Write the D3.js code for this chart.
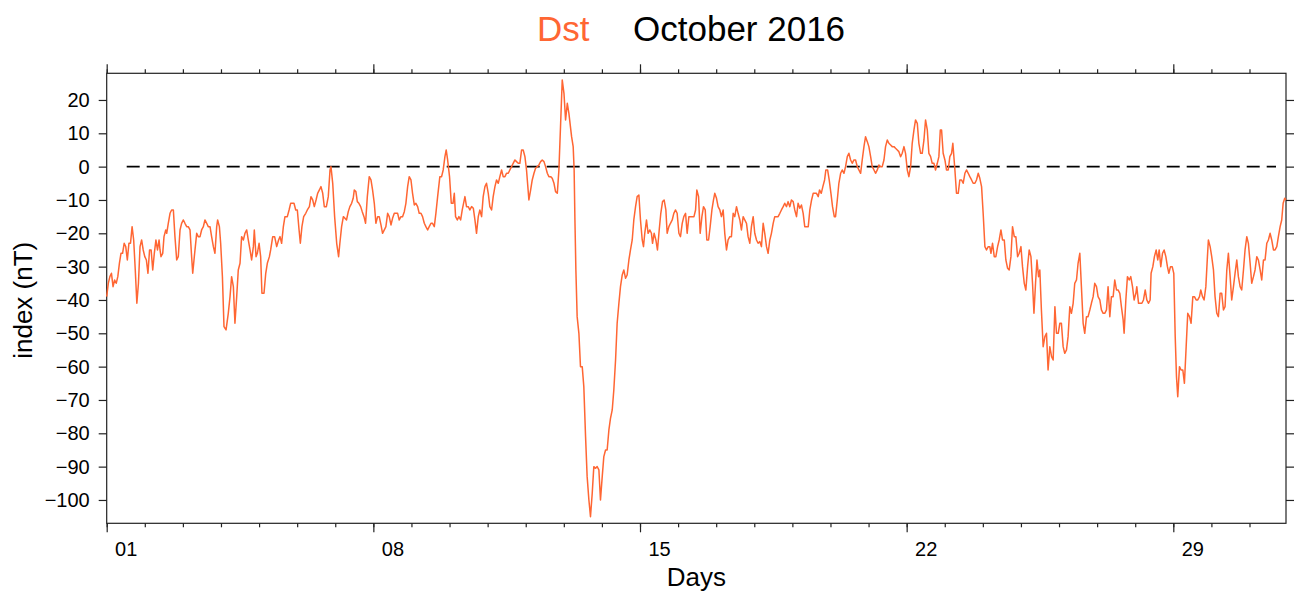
<!DOCTYPE html>
<meta charset="utf-8">
<style>
    body { margin: 0; background: #fff; }
    text { font-family: "Liberation Sans", Arial, sans-serif; }
</style>
<div id="chart"></div>
<script src="https://d3js.org/d3.v7.min.js"></script>
<script>

    // hours since 2016-10-01 00:00 UT
    var hours = [
        0, 1, 2, 3, 4, 5, 6, 7, 8, 9,
        10, 11, 12, 13, 14, 15, 16, 17, 18, 19,
        20, 21, 22, 23, 24, 25, 26, 27, 28, 29,
        30, 31, 32, 33, 33.6, 34.2, 35.3, 36.1, 37.2, 37.8,
        38.8, 39.9, 40.9, 42, 43, 44.1, 45.1, 46.2, 47.2, 48.3,
        49.3, 50.4, 51.4, 52.5, 53.5, 54.2, 55.2, 56.7, 57.7, 58.8,
        59.8, 60.9, 61.9, 63, 64, 65.1, 66.1, 67.2, 68.2, 69.3,
        69.9, 71, 71.8, 72.9, 73.9, 75.2, 76.6, 77.7, 78.7, 79.8,
        80.8, 81.9, 82.9, 84, 85, 86.1, 87.1, 88.2, 89.2, 90.3,
        91.3, 92.4, 93, 94.1, 94.9, 96, 97, 97.8, 99.1, 100.2,
        101.2, 102.5, 103.3, 104.6, 105.8, 107.1, 108.3, 109.2, 110.2, 111.3,
        112.3, 113.8, 114.9, 115.9, 117, 118, 119.1, 120.1, 121.2, 122,
        123, 124.1, 125.4, 126.4, 127.7, 128.7, 129.8, 130.8, 131.9, 132.9,
        134, 135, 136.1, 137.1, 138.4, 139.6, 140.7, 141.3, 142.4, 143.6,
        144.9, 146.1,
        146.9, 148, 149.1, 150.1, 151.1, 152.2, 153.2, 154.3, 155.3, 156,
        157, 157.9, 158.9, 160, 161, 162.1, 163.1, 164.2, 165.4, 166.5,
        167.5, 168.6, 169.6, 170.7, 171.7, 172.8, 173.8, 174.9, 175.9, 177,
        178, 179.1, 180.1, 181.2, 182.2, 183.3, 184.3, 185.4, 186.4, 187.5,
        188.5, 189.6, 190.6, 191.7, 192.7, 193.8, 194.8, 195.9, 196.9, 198,
        199, 200.1, 201.1, 202.2, 203.2, 204.3, 205.3, 206.4, 207.4, 208.5,
        209.9, 211, 212, 213.1, 213.9, 214.8, 216, 217.1, 218.2, 219,
        219.8, 220.9, 221.9, 223, 224, 225.7, 226.7, 227.8, 228.8, 229.9,
        231, 232, 233, 234.1, 235.1, 236.2, 237.2, 238.3, 239.3, 240.4,
        241.4, 242.5, 243.5, 244.6, 245.6, 246.7, 247.7, 248.8, 249.8, 250.9,
        251.9, 253, 254, 255.1, 256.1, 257.2, 258.2, 259.3, 260.3, 261.4,
        262.4, 263.5, 264.5, 266, 267.1, 268.1, 269.2, 270.2, 271.3, 272.3,
        273.4, 274.4, 275.5, 276.5, 277.6, 278.6, 279.7, 280.7, 281.8, 282.8,
        283.9, 284.9, 286, 287, 288.1, 289.1, 290.2, 291.2,
        292.9, 293.9, 294.5, 295, 295.6, 296.4, 297.5, 298.5, 299.6, 300.6,
        301.7, 302.7, 303.8, 304.8, 305.9, 306.9, 308, 309, 310.1, 311.1,
        312.2, 313.2, 314.3, 315.3, 316.4, 317.4, 318.5, 319.5, 320.6, 321.6,
        322.7, 323.7, 324.8, 325.8, 326.9, 327.9, 329, 330, 331.1, 332.1,
        333.2, 334.2, 335.3, 336.3, 337.4, 338.2, 339, 340.1, 341.1, 342.2,
        343.2, 343.9, 344.9, 346, 347, 348.1, 349.1, 350.2, 351.2, 352.3,
        353.1, 354.2, 355.2, 356.3, 357.3, 358.4, 359.4, 360.5, 361.5, 362.6,
        363.6, 364.7, 365.7, 366.8, 367.8, 368.9, 370, 371, 371.8, 372.9,
        373.9, 375, 376, 377.1, 378.1, 379.2, 380.2, 381.3, 382.3, 383.1,
        384.2, 385.2, 386.3, 387.3, 388.4, 389.4, 390.5, 391.5, 392.6, 393.6,
        394.7, 395.7, 396.8, 397.8, 398.9, 399.9, 401, 402, 403.1, 404.1,
        405.2, 406.2, 407.3, 408.3, 409.4, 410.4, 411.5, 412.5, 413.6, 414.6,
        415.7, 416.7, 417.8, 418.8, 419.9, 420.9, 422, 423, 424.1, 425.1,
        426.2, 427.2, 428.3, 429.3, 430.4, 431.4, 432.5, 433.5, 434.6, 435.6,
        436.7, 437.7, 438.8, 439.8,
        442, 443, 444.1, 445.1, 446.2, 447.2, 448.3, 449.1, 450.2, 451.2,
        452.3, 453.1, 454.2, 455.2, 456.3, 457.3, 458.4, 459.2, 460.3, 461.3,
        462.4, 463.4, 464.5, 465.5, 466.6, 467.6, 468.7, 469.7, 470.8, 471.8,
        472.9, 473.9, 475, 476, 477.1, 478.1, 479.2, 480.2, 481.3, 482.3,
        483.4, 484.4, 485.5, 486.5, 487.6, 488.6, 489.7, 490.7, 491.8, 492.8,
        493.9, 494.9, 496, 497, 498.1, 499.1, 500.2, 501.2, 502.3, 503.3,
        504.4, 505.4, 506.5, 507.5, 508.6, 509.6, 510.7, 511.7, 512.8, 513.8,
        514.9, 515.9, 517, 518, 519.1, 520.1, 521.2, 522.2, 523.3, 524.3,
        525.2, 526, 527, 528.1, 529.1, 530.2, 531.2, 532.3, 533.1, 534.4,
        535.4, 536.5, 537.5, 538.6, 539.6, 540.7, 541.7, 542.8, 543.8, 544.9,
        545.9, 547, 548, 549.1, 550.1, 551.2, 552.2, 553.3, 554.3, 555.4,
        556.4, 557.1, 558.1, 559.2, 560.2, 561.3, 562.3, 563.4, 564.4, 565.5,
        566.5, 567.6, 568.6, 569.7, 570.7, 571.8, 572.8, 573.9, 574.9, 576,
        577, 578.1, 579.1, 580.2, 581.2, 582.3, 583.3, 584.2, 585.2, 586.1,
        587.1, 587.9,
        588.9, 590, 591.1, 592.1, 593.1, 594.2, 595.3, 596.3, 597.4, 598.4,
        599.5, 600.5, 601.5, 602.6, 603.6, 604.7, 605.7, 606.8, 607.8, 608.9,
        609.9, 611, 612, 613.1, 614.1, 615.2, 616.2, 617.3, 618.3, 619.4,
        620.4, 621.5, 622.5, 623.6, 624.6, 625.7, 626.7, 627.8, 628.8, 629.9,
        630.9, 632, 633, 634.1, 635.1, 636.2, 637.2, 638.3, 639.3, 640.4,
        641, 642.1, 643.1, 644.2, 645.2, 646.3, 647.3, 648.4, 649, 650.1,
        651.1, 652.2, 653.2, 654.3, 655.3, 656.4, 657.4, 658, 659.1, 660.1,
        661.2, 662.2, 663.1, 664.1, 665.2, 666.2, 667.3, 668.3, 669.2, 670.2,
        671.3, 672.3, 673.2, 674, 674.8, 675.9, 676.9, 678, 679, 680.1,
        681.1, 682.2, 683.2, 684.3, 685.3, 686.4, 687.4, 688.5, 689.3, 690.4,
        691.4, 692.5, 693.5, 694.1, 695.2, 696.2, 697.3, 698.3, 699.4, 700.4,
        701.5, 702.5, 703.6, 704.6, 705.7, 706.7, 707.8, 708.8, 709.9, 710.9,
        712, 713, 714.1, 715.1, 716.2, 717.2, 718.3, 719.3, 720.4, 721.4,
        722.5, 723.5, 724.6, 725.6, 726.7, 727.7, 728.8, 729.8, 730.9, 731.9,
        733, 734, 735.1, 736.1, 737.2, 738.2, 739.3, 740.3, 741.2, 742.2,
        743
    ];

    // Dst index (nT), same order as hours
    var dst = [
        -39, -35, -33, -32, -36, -34, -35, -33, -29, -26,
        -26, -23, -24, -28, -23, -23, -18, -22, -31, -41,
        -35, -24, -22, -25, -27, -28, -32, -25, -25, -31,
        -26, -22, -25, -22, -25, -27, -26, -21, -19, -20,
        -17, -14, -13, -13, -21, -28, -27, -19, -17, -16,
        -17, -18, -18, -19, -27, -32, -27, -20, -21, -21,
        -19, -18, -16, -17, -18, -18, -21, -24, -26, -18,
        -16, -18, -23, -33, -48, -49, -44, -39, -33, -36,
        -47, -39, -31, -29, -21, -22, -20, -19, -22, -25,
        -28, -24, -19, -27, -26, -23, -27, -38, -38, -32,
        -29, -27, -25, -21, -21, -24, -22, -21, -23, -18,
        -15, -15, -13, -11, -11, -11, -13, -13, -19, -23,
        -18, -15, -14, -13, -12, -9, -10, -12, -10, -8,
        -7, -6, -8, -12, -12, -9, -1, 0, -5, -15,
        -23, -27,
        -23, -18, -15, -15.5, -16, -13.5, -12, -11, -9.5, -7,
        -7.5, -10.5, -11, -12, -13.5, -15, -17, -9, -3, -4,
        -7, -11, -17, -15, -15, -17.5, -20, -19, -18, -14,
        -15, -17.5, -15.5, -14, -14, -14, -16, -15, -15, -13.5,
        -11, -6, -3, -4, -8, -11.5, -11, -12, -14, -14,
        -15, -17, -18, -19, -18, -17, -17, -18, -14, -9,
        -3, -3, -1, 3, 5, 2, -3, -11, -11, -8,
        -15, -16, -15, -16, -13, -9, -12, -12, -13, -12,
        -12.5, -16, -20, -15, -13, -15, -9, -6, -5, -8,
        -12, -13, -9, -6, -4, -5, -3, -1, -3, -3,
        -2, -2, -1, 0, 1, 2, 1.5, 1, 1, 5,
        5, 3, -1, -10, -7, -4, -2, -0.5, 0, 0.5,
        1.5, 2, 1.5, 0, -2, -3, -3, -3.5, -5, -7.5,
        -8, -1, 13, 26, 22, 14, 19, 16,
        9, 6, -1, -16, -31, -45, -50, -60, -60, -66,
        -81, -93, -100, -105, -98, -90, -90.5, -90, -91, -100,
        -93, -87, -85, -85, -79, -75.5, -73, -67, -58, -47,
        -41, -36, -32.5, -31, -33.5, -32.5, -28, -25, -22, -16,
        -12, -9, -8.5, -16, -22, -24, -20, -16, -20, -19,
        -20, -23, -20, -22, -25, -19, -14, -10.5, -10, -13,
        -20, -18, -17, -16, -14, -13, -14, -20, -21, -17,
        -15, -14, -20, -15, -15, -15, -15, -13, -7, -9,
        -20, -15, -12, -13, -22, -22, -18, -13, -10, -8,
        -9.5, -12, -13, -15, -13, -20, -25, -22, -21, -21,
        -14, -15, -12, -14, -16, -19, -15, -16, -17, -21,
        -23, -18, -15, -20, -22, -23, -22.5, -24, -17, -20,
        -24, -26, -22, -20, -17, -15, -15, -15, -14, -13,
        -12, -11, -12, -10.5, -12, -10, -10.5, -13, -15, -11,
        -12.5, -11.5, -14, -18,
        -18, -13, -10, -8, -8, -8, -9, -7, -8, -6,
        -4, -1, -1, -4, -8, -12, -15, -15, -10, -5,
        -2, -1, -2, 0, 3, 4, 2, 1, 2, 2,
        0, -1, -2, 2, 6, 9, 7.5, 6, 3, 0,
        -1, -2, -1, 0.5, 0, 0, 2, 6, 8, 7,
        6.5, 6, 6, 5.5, 5, 4.5, 3, 4, 6, 4,
        -1, -3, 0, 7, 11, 14, 13, 7, 4, 4,
        8, 14, 11, 4, 3, 1, 1, -1, 1, 3,
        11, 11, 4, 2, -1, -1, 3, 4, 7, -1,
        -8, -8, -4, -4, -5, -2, -1, -2, -3, -4,
        -5, -5, -4, -2, -3.5, -6, -14, -24, -25, -24,
        -24, -26, -23, -27, -27, -24, -22, -19, -22, -22,
        -28, -30.5, -31, -27, -18, -21, -21, -27, -26, -24,
        -30, -35, -37, -30, -25, -27, -35, -44, -35, -28,
        -33, -31,
        -43, -54, -51, -50, -61, -54, -57, -58, -42, -50,
        -50, -47, -47, -54, -56, -55, -51, -42, -44, -41,
        -35, -34, -29, -26, -36, -47, -50, -45, -45, -43,
        -41, -39, -35, -36, -39, -40, -43, -44, -44, -43,
        -36, -45, -39, -39, -34, -37, -37, -38, -42, -46,
        -50, -40, -33, -34, -33, -36, -40, -38, -36, -41,
        -41, -41, -40, -37, -40, -41, -40, -32, -30, -27,
        -25, -28, -25, -30, -26, -25, -27, -30, -32, -30,
        -30, -32, -51, -63, -69, -60, -61, -61, -65, -54,
        -44, -45, -47, -39, -39, -40, -40, -39, -37, -39,
        -40, -36, -27, -22, -24, -27, -31, -39, -44, -45,
        -38, -38, -43, -42, -31, -26, -33, -40, -36, -32,
        -28, -33, -36, -37, -31, -25, -21, -23, -29, -35,
        -33, -31, -27, -28, -31, -34, -28, -28, -23, -22,
        -20, -22, -25, -25, -24, -21, -18, -16, -11, -9.5,
        -10
    ];

    var dayLabels = ["01", "08", "15", "22", "29"];
    var labelDays = [1, 8, 15, 22, 29];
    var yTicks = [-100, -90, -80, -70, -60, -50, -40, -30, -20, -10, 0, 10, 20];

    var margin = { top: 73.3, right: 9, bottom: 70.7, left: 106.7 },
        width = 1295 - margin.left - margin.right,
        height = 594 - margin.top - margin.bottom;

    var svg = d3.select("#chart")
        .append("svg")
        .attr("width", 1295)
        .attr("height", 594);

    var g = svg.append("g")
        .attr("transform", "translate(" + margin.left + "," + margin.top + ")");

    var t0 = Date.UTC(2016, 9, 1);
    var HOUR = 3600 * 1000;
    var DAY = 24 * HOUR;

    var data = d3.zip(hours, dst).map(function (d) {
        return { t: new Date(t0 + d[0] * HOUR), v: d[1] };
    });

    var x = d3.scaleUtc()
        .domain([new Date(t0), new Date(t0 + 743 * HOUR)])
        .range([0, width]);

    var y = d3.scaleLinear()
        .domain([-107, 28])
        .range([height, 0]);

    var allDays = d3.range(0, 31).map(function (i) { return new Date(t0 + i * DAY); });
    var majorDays = labelDays.map(function (d) { return new Date(t0 + (d - 1) * DAY); });
    var labelPos = labelDays.map(function (d) { return new Date(t0 + (d - 1) * DAY + 12 * HOUR); });

    function styleAxis(sel) {
        sel.select(".domain").remove();
        sel.selectAll("line").attr("stroke", "#222").attr("stroke-width", 1.2);
    }

    // bottom ticks
    g.append("g").attr("transform", "translate(0," + height + ")")
        .call(d3.axisBottom(x).tickValues(allDays).tickSize(4).tickFormat(""))
        .call(styleAxis);
    g.append("g").attr("transform", "translate(0," + height + ")")
        .call(d3.axisBottom(x).tickValues(majorDays).tickSize(9).tickFormat(""))
        .call(styleAxis);
    var lab = g.append("g").attr("transform", "translate(0," + height + ")")
        .call(d3.axisBottom(x).tickValues(labelPos).tickSize(0)
            .tickFormat(function (d, i) { return dayLabels[i]; }));
    lab.select(".domain").remove();
    lab.selectAll("text")
        .attr("y", 33).attr("dy", 0)
        .attr("fill", "#000")
        .style("font-size", "20px")
        .style("font-family", "Liberation Sans, Arial, sans-serif");

    // top ticks
    g.append("g")
        .call(d3.axisTop(x).tickValues(allDays).tickSize(4).tickFormat(""))
        .call(styleAxis);
    g.append("g")
        .call(d3.axisTop(x).tickValues(majorDays).tickSize(9).tickFormat(""))
        .call(styleAxis);

    // left axis
    var left = g.append("g")
        .call(d3.axisLeft(y).tickValues(yTicks).tickSize(8).tickPadding(9)
            .tickFormat(function (d) { return d < 0 ? "\u2212" + Math.abs(d) : d; }))
        .call(styleAxis);
    left.selectAll("text")
        .attr("fill", "#000")
        .style("font-size", "20px")
        .style("font-family", "Liberation Sans, Arial, sans-serif");

    // right axis
    g.append("g").attr("transform", "translate(" + width + ",0)")
        .call(d3.axisRight(y).tickValues(yTicks).tickSize(8).tickFormat(""))
        .call(styleAxis);

    // frame
    g.append("rect")
        .attr("width", width)
        .attr("height", height)
        .attr("fill", "none")
        .attr("stroke", "#222")
        .attr("stroke-width", 1.2);

    // zero line
    g.append("line")
        .attr("x1", 20).attr("x2", width - 10)
        .attr("y1", y(0)).attr("y2", y(0))
        .attr("stroke", "#000")
        .attr("stroke-width", 1.8)
        .attr("stroke-dasharray", "13,7");

    // Dst line
    var line = d3.line()
        .x(function (d) { return x(d.t); })
        .y(function (d) { return y(d.v); });

    g.append("path")
        .datum(data)
        .attr("fill", "none")
        .attr("stroke", "#ff6633")
        .attr("stroke-width", 1.5)
        .attr("stroke-linejoin", "round")
        .attr("d", line);

    // title
    svg.append("text")
        .attr("x", 537).attr("y", 41)
        .attr("fill", "#ff6633")
        .style("font-size", "35px")
        .text("Dst");
    svg.append("text")
        .attr("x", 633).attr("y", 41)
        .attr("fill", "#000")
        .style("font-size", "35px")
        .text("October 2016");

    // axis labels
    svg.append("text")
        .attr("x", margin.left + width / 2)
        .attr("y", 586)
        .style("text-anchor", "middle")
        .style("font-size", "26px")
        .text("Days");

    svg.append("text")
        .attr("transform", "translate(32," + (margin.top + height / 2 + 2) + ") rotate(-90)")
        .style("text-anchor", "middle")
        .style("font-size", "26px")
        .text("index (nT)");

</script>
